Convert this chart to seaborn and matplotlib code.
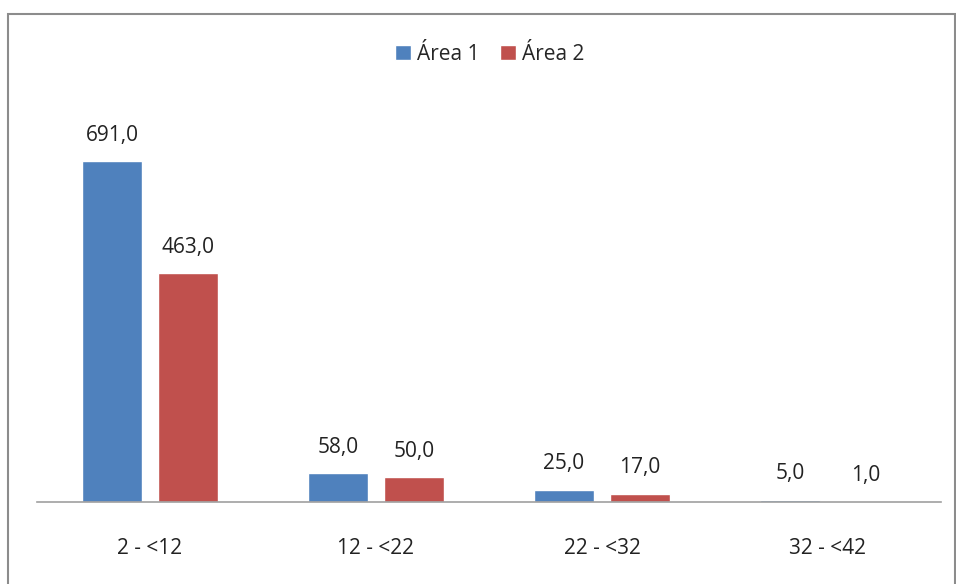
import pandas as pd
import seaborn as sns
import matplotlib.pyplot as plt
from matplotlib.patches import Rectangle

# Data
categories = ["2 - <12", "12 - <22", "22 - <32", "32 - <42"]
area1 = [691.0, 58.0, 25.0, 5.0]
area2 = [463.0, 50.0, 17.0, 1.0]
series_names = ["Área 1", "Área 2"]
colors = ["#4F81BD", "#C0504D"]

df = pd.DataFrame({
    "Classe": categories * 2,
    "Valor": area1 + area2,
    "Série": [series_names[0]] * len(categories) + [series_names[1]] * len(categories),
})

sns.set_style("white")
plt.rcParams["font.family"] = ["Open Sans", "DejaVu Sans"]

fig = plt.figure(figsize=(9.56, 5.84), dpi=100)
ax = fig.add_axes([0.0387, 0.1404, 0.9456, 0.6764])

sns.barplot(data=df, x="Classe", y="Valor", hue="Série", order=categories,
            hue_order=series_names, palette=colors, width=0.672, gap=0.21,
            errorbar=None, ax=ax, saturation=1)

for container in ax.containers:
    ax.bar_label(container, labels=[f"{v:.1f}".replace(".", ",") for v in container.datavalues],
                 padding=11, fontsize=15, color="#222222")

ax.set_ylim(0, 800)
ax.set_xlim(-0.5, len(categories) - 0.5)
ax.set_xlabel("")
ax.set_ylabel("")
ax.set_yticks([])
ax.tick_params(axis="x", length=0, pad=26, labelsize=15, labelcolor="#222222")
for side in ["top", "right", "left"]:
    ax.spines[side].set_visible(False)
ax.spines["bottom"].set_color("#A0A0A0")
ax.spines["bottom"].set_linewidth(1.2)

ax.legend(loc="center", bbox_to_anchor=(490 / 956, 1 - 54 / 584),
          bbox_transform=fig.transFigure, ncol=2, frameon=False, fontsize=15,
          handlelength=0.75, handleheight=0.75, handletextpad=0.3, columnspacing=1.0)
# outer chart border
fig.patches.append(Rectangle((8 / 956, -0.01), (955 - 8) / 956, (584 - 14) / 584 + 0.01,
                             transform=fig.transFigure, fill=False,
                             edgecolor="#8C8C8C", linewidth=1.5))

fig.savefig("out.png", dpi=100)
